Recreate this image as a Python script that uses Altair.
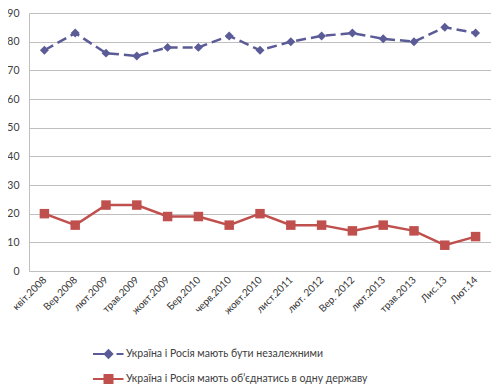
import altair as alt
import pandas as pd

categories = ["квіт.2008", "Вер.2008", "лют.2009", "трав.2009", "жовт.2009",
              "Бер.2010", "черв.2010", "жовт.2010", "лист.2011", "лют. 2012",
              "Вер. 2012", "лют.2013", "трав.2013", "Лис.13", "Лют.14"]
independent = [77, 83, 76, 75, 78, 78, 82, 77, 80, 82, 83, 81, 80, 85, 83]
unite = [20, 16, 23, 23, 19, 19, 16, 20, 16, 16, 14, 16, 14, 9, 12]
series_names = ["Україна і Росія мають бути незалежними",
                "Україна і Росія мають об’єднатись в одну державу"]
y_ticks = [0, 10, 20, 30, 40, 50, 60, 70, 80, 90]

colors = ["#5B5B97", "#C0504D"]
FONT = "Lato"

rows = []
for name, vals in zip(series_names, [independent, unite]):
    for c, v in zip(categories, vals):
        rows.append({"period": c, "value": v, "series": name})
df = pd.DataFrame(rows)

x_enc = alt.X("period:N", sort=categories,
              scale=alt.Scale(domain=categories, padding=0.5),
              axis=alt.Axis(title=None, labelAngle=-45, labelAlign="right",
                            labelBaseline="middle", labelPadding=7, ticks=False,
                            domainColor="#BFBFBF", labelColor="#333333",
                            labelFontSize=10, labelFont=FONT))
y_enc = alt.Y("value:Q", scale=alt.Scale(domain=[0, 90]),
              axis=alt.Axis(title=None, values=y_ticks, ticks=False,
                            labelPadding=10, domainColor="#BFBFBF",
                            gridColor="#BFBFBF", labelColor="#404040",
                            labelFontSize=10.5, labelFont=FONT))

blue_path = "M-3.1,0L-0.6,0M0,-0.75L0.75,0L0,0.75L-0.75,0ZM1.6,0L3,0"
red_path = "M-3.1,0L3,0M-0.8,-0.8L0.8,-0.8L0.8,0.8L-0.8,0.8Z"


def make_legend():
    return alt.Legend(
        title=None, orient="none", legendX=73.5, legendY=335, direction="vertical",
        symbolSize=100, labelOffset=11.5, rowPadding=9, padding=0,
        labelFont=FONT, labelFontSize=10.5, labelColor="#404040", labelLimit=400,
        symbolStrokeWidth=2, symbolOpacity=1)


def series_df(i):
    return alt.Chart(df).transform_filter(alt.datum.series == series_names[i])


line_blue = series_df(0).mark_line(strokeWidth=2.5, color=colors[0], strokeDash=[10, 5]).encode(
    x=x_enc, y=y_enc)
line_red = series_df(1).mark_line(strokeWidth=2.5, color=colors[1]).encode(
    x=x_enc, y=y_enc)
pts_blue = series_df(0).mark_point(shape="diamond", filled=True, size=80, opacity=1,
                                   color=colors[0]).encode(x=x_enc, y=y_enc)
pts_red = series_df(1).mark_point(shape="square", filled=True, size=90, opacity=1,
                                  color=colors[1]).encode(x=x_enc, y=y_enc)

legend_layer = alt.Chart(df).mark_point(
    filled=True, opacity=0, strokeWidth=2
).encode(
    x=x_enc, y=y_enc,
    fill=alt.Fill("series:N", scale=alt.Scale(domain=series_names, range=colors), legend=make_legend()),
    stroke=alt.Stroke("series:N", scale=alt.Scale(domain=series_names, range=colors), legend=make_legend()),
    shape=alt.Shape("series:N", scale=alt.Scale(domain=series_names, range=[blue_path, red_path]), legend=make_legend()),
)

chart = alt.layer(line_blue, line_red, pts_blue, pts_red, legend_layer).properties(
    width=462, height=258,
    autosize=alt.AutoSizeParams(type="none"),
    padding={"left": 21, "top": 5, "right": 0, "bottom": 113},
).configure_view(stroke=None)

chart.save("out.html", embed_options={"renderer": "svg", "actions": False})
